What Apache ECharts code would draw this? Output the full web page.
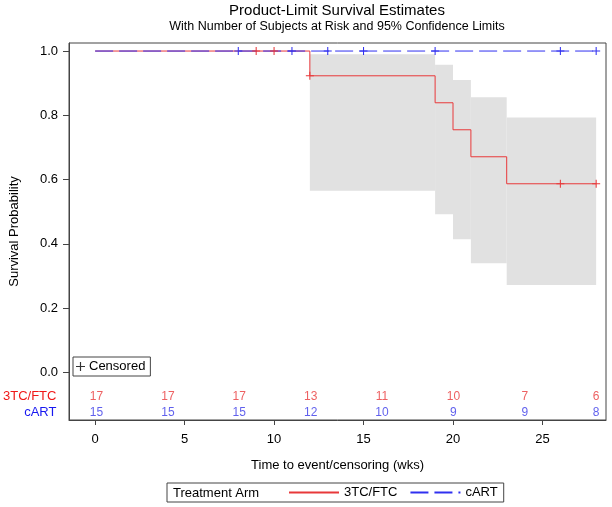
<!DOCTYPE html>
<html>
<head>
<meta charset="utf-8">
<script src="https://cdn.jsdelivr.net/npm/echarts@6/dist/echarts.min.js"></script>
<style>
html,body{margin:0;padding:0;background:#fff;}
#c{width:612px;height:507px;}
</style>
</head>
<body>
<div id="c"></div>
<script>
// ---- data ----
const xTicks = [0, 5, 10, 15, 20, 25];
const yTicks = [0, 0.2, 0.4, 0.6, 0.8, 1.0];
const groups = ['3TC/FTC', 'cART'];
const riskTimes = [0, 4, 8, 12, 16, 20, 24, 28];
const riskA = [17, 17, 17, 13, 11, 10, 7, 6];
const riskB = [15, 15, 15, 12, 10, 9, 9, 8];
const kmTimesA = [0, 12, 19, 20, 21, 23, 28];
const kmSurvA = [1, 0.923, 0.839, 0.755, 0.671, 0.587, 0.587];
const kmTimesB = [0, 28];
const kmSurvB = [1, 1];
const censTimesA = [9, 10, 12, 26, 28];
const censSurvA = [1, 1, 0.923, 0.587, 0.587];
const censTimesB = [8, 11, 13, 15, 19, 26, 28];
const censSurvB = [1, 1, 1, 1, 1, 1, 1];
const ciTimes = [12, 19, 20, 21, 23, 28];
const ciLower = [0.565, 0.492, 0.414, 0.340, 0.272];
const ciUpper = [0.990, 0.957, 0.910, 0.856, 0.793];

// ---- styles ----
const FONT = 'Liberation Sans, Arial, sans-serif';
const RED = '#e8383a';
const BLUE = '#3030f0';
const FRAME = '#444';
const PLUS = 'path://M4.35,0H5.65V4.35H10V5.65H5.65V10H4.35V5.65H0V4.35H4.35Z';
const XMIN = -1.46, XMAX = 28.55, YMIN = -0.148, YMAX = 1.025;

const zip = (a, b) => a.map((v, i) => [v, b[i]]);
const bandData = ciLower.map((lo, i) => [ciTimes[i], ciTimes[i + 1], lo, ciUpper[i]]);

const chart = echarts.init(document.getElementById('c'), null, {renderer: 'canvas'});
chart.setOption({
  animation: false,
  textStyle: {fontFamily: FONT},
  graphic: [
    {type: 'text', x: 337, y: 11, style: {text: 'Product-Limit Survival Estimates', font: '15px ' + FONT, fill: '#000', textAlign: 'center', textVerticalAlign: 'middle'}},
    {type: 'text', x: 337, y: 27, style: {text: 'With Number of Subjects at Risk and 95% Confidence Limits', font: '12.5px ' + FONT, fill: '#000', textAlign: 'center', textVerticalAlign: 'middle'}},
    {type: 'text', x: 173, y: 493, style: {text: 'Treatment Arm', font: '13px ' + FONT, fill: '#000', textAlign: 'left', textVerticalAlign: 'middle'}}
  ],
  legend: [
    {
      data: ['3TC/FTC', 'cART'],
      left: 167, top: 483,
      padding: [3, 6, 3, 121],
      itemWidth: 50, itemHeight: 14, itemGap: 12,
      borderColor: FRAME, borderWidth: 1,
      itemStyle: {opacity: 0},
      textStyle: {fontSize: 13, color: '#000', fontFamily: FONT},
      selectedMode: false
    },
    {
      data: [{name: 'Censored', icon: PLUS}],
      left: 73, top: 357,
      padding: [3, 5, 3, 3],
      itemWidth: 9, itemHeight: 9, itemGap: 0,
      borderColor: FRAME, borderWidth: 1,
      textStyle: {fontSize: 13, color: '#000', fontFamily: FONT, padding: [0, 0, 0, -1]},
      selectedMode: false
    }
  ],
  grid: [
    {left: 67, right: 6, top: 43, bottom: 87, show: true, borderColor: FRAME, borderWidth: 1, containLabel: false},
    {left: 67, right: 6, top: 388, height: 33, containLabel: false}
  ],
  xAxis: [
    {
      type: 'value', gridIndex: 0, min: XMIN, max: XMAX,
      name: 'Time to event/censoring (wks)', nameLocation: 'middle', nameGap: 39,
      nameTextStyle: {fontSize: 13, color: '#000', fontFamily: FONT},
      axisLine: {show: true, onZero: false, lineStyle: {color: FRAME}},
      axisTick: {show: true, length: 5, customValues: xTicks, lineStyle: {color: FRAME}},
      axisLabel: {customValues: xTicks, fontSize: 13, color: '#000', margin: 13, fontFamily: FONT},
      splitLine: {show: false}
    },
    {type: 'value', gridIndex: 1, min: XMIN, max: XMAX, show: false}
  ],
  yAxis: [
    {
      type: 'value', gridIndex: 0, min: YMIN, max: YMAX,
      name: 'Survival Probability', nameLocation: 'middle', nameGap: 48,
      nameTextStyle: {fontSize: 13, color: '#000', fontFamily: FONT},
      axisLine: {show: true, onZero: false, lineStyle: {color: FRAME}},
      axisTick: {show: true, length: 6, customValues: yTicks, lineStyle: {color: FRAME}},
      axisLabel: {customValues: yTicks, fontSize: 13, color: '#000', margin: 11, fontFamily: FONT,
                  formatter: v => v.toFixed(1)},
      splitLine: {show: false}
    },
    {
      type: 'category', gridIndex: 1, data: groups, inverse: true,
      axisLine: {show: false}, axisTick: {show: false}, splitLine: {show: false},
      axisLabel: {
        interval: 0, margin: 14, fontSize: 13, fontFamily: FONT,
        formatter: v => v === groups[0] ? '{a|' + v + '}' : '{b|' + v + '}',
        rich: {a: {color: '#f01818', fontSize: 13, fontFamily: FONT}, b: {color: '#1818f0', fontSize: 13, fontFamily: FONT}}
      }
    }
  ],
  series: [
    {
      type: 'custom', name: 'CI', xAxisIndex: 0, yAxisIndex: 0, z: 1,
      data: bandData,
      renderItem: (params, api) => {
        const p1 = api.coord([api.value(0), api.value(3)]);
        const p2 = api.coord([api.value(1), api.value(2)]);
        return {type: 'rect', shape: {x: p1[0], y: p1[1], width: p2[0] - p1[0], height: p2[1] - p1[1]},
                style: {fill: '#e1e1e1'}};
      },
      silent: true
    },
    {
      type: 'line', name: '3TC/FTC', xAxisIndex: 0, yAxisIndex: 0, z: 3,
      data: zip(kmTimesA, kmSurvA), step: 'end', symbol: 'none',
      itemStyle: {color: RED},
      lineStyle: {color: RED, width: 1}
    },
    {
      type: 'line', name: 'cART', xAxisIndex: 0, yAxisIndex: 0, z: 4,
      data: zip(kmTimesB, kmSurvB), step: 'end', symbol: 'none',
      itemStyle: {color: BLUE},
      lineStyle: {color: BLUE, width: 1, type: [18, 6]}
    },
    {
      type: 'scatter', name: 'censA', xAxisIndex: 0, yAxisIndex: 0, z: 5,
      data: zip(censTimesA, censSurvA), symbol: PLUS, symbolSize: 8,
      itemStyle: {color: RED, opacity: 1}
    },
    {
      type: 'scatter', name: 'censB', xAxisIndex: 0, yAxisIndex: 0, z: 6,
      data: zip(censTimesB, censSurvB), symbol: PLUS, symbolSize: 8,
      itemStyle: {color: BLUE, opacity: 1}
    },
    {
      type: 'scatter', name: 'Censored', xAxisIndex: 0, yAxisIndex: 0,
      data: [], symbol: PLUS, itemStyle: {color: '#000'}
    },
    {
      type: 'scatter', name: 'riskA', xAxisIndex: 1, yAxisIndex: 1,
      data: riskTimes.map((t, i) => [t, 0, riskA[i]]),
      symbolSize: 1, itemStyle: {color: 'rgba(0,0,0,0)'},
      label: {show: true, position: 'inside', formatter: p => p.value[2], color: '#e8383a', fontSize: 12, fontFamily: FONT}
    },
    {
      type: 'scatter', name: 'riskB', xAxisIndex: 1, yAxisIndex: 1,
      data: riskTimes.map((t, i) => [t, 1, riskB[i]]),
      symbolSize: 1, itemStyle: {color: 'rgba(0,0,0,0)'},
      label: {show: true, position: 'inside', formatter: p => p.value[2], color: '#3838e8', fontSize: 12, fontFamily: FONT}
    }
  ]
});
</script>
</body>
</html>
